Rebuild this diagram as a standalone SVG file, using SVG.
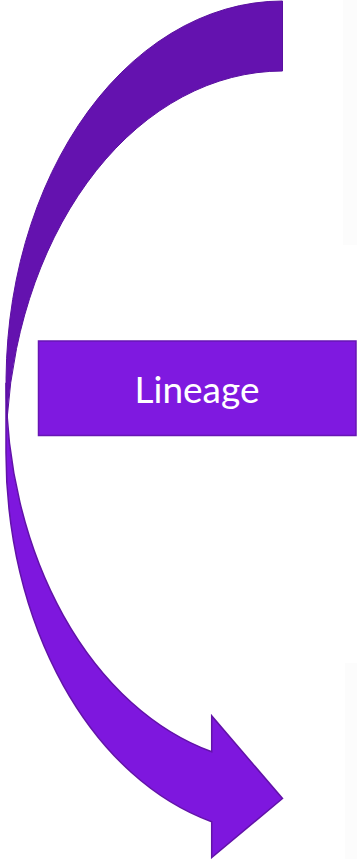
<svg xmlns="http://www.w3.org/2000/svg" width="357" height="859" viewBox="0 0 357 859">
  <style>
    .bg { fill: #ffffff; }
    .haze { fill: #fcfcfc; }
    .arrow-front { fill: #7e17de; stroke: #6213a8; stroke-width: 1.5; stroke-linejoin: miter; }
    .arrow-back { fill: #6412af; stroke: #5a10a0; stroke-width: 1; }
    .box { fill: #7f19e0; stroke: #6716b4; stroke-width: 1.5; }
    .label { fill: #ffffff; font-family: Lato, "Open Sans", "Noto Sans", "Liberation Sans", sans-serif; font-size: 37px; text-anchor: middle; }
  </style>
  <rect class="bg" x="0" y="0" width="357" height="859"/>
  <rect class="haze" x="343" y="0" width="14" height="245"/>
  <rect class="haze" x="345" y="663" width="12" height="196"/>

  <g id="connectors">
    <g id="curved-arrow">
      <path class="arrow-front" d="M 6 382.7 A 276.5 381.7 0 0 0 211.7 751.7 L 211.7 715.9 L 282.5 798.5 L 211.7 857.5 L 211.7 821.7 A 276.5 381.7 0 0 1 6 452.7 Z"/>
      <path class="arrow-back" d="M 282.5 71 A 276.5 381.7 0 0 0 7.2 417.7 A 276.5 381.7 0 0 1 282.5 1 Z"/>
    </g>
  </g>

  <g id="node-lineage">
    <rect class="box" x="38.5" y="341" width="317.5" height="94.5"/>
    <text class="label" x="197" y="402.5">Lineage</text>
  </g>
</svg>
